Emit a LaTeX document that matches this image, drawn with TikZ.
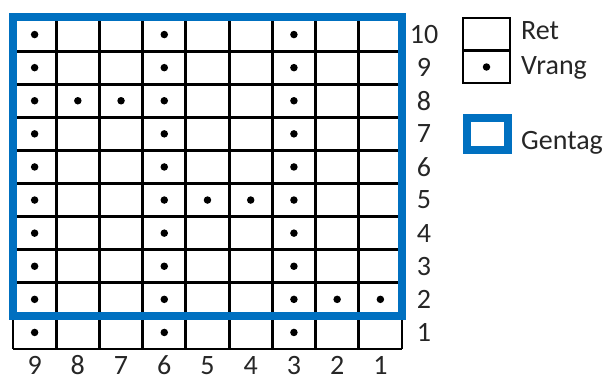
\documentclass[tikz,border=0pt]{standalone}
\usepackage{fontspec}
\setmainfont{Carlito}
\definecolor{gblue}{RGB}{0,112,192}
\begin{document}
\begin{tikzpicture}[x=1pt,y=-1pt,
  gridline/.style={line width=2.8pt,black},
  dotmark/.style={circle,fill=black,inner sep=0pt,minimum size=7.5pt},
  lbl/.style={font=\fontsize{28}{32}\selectfont,inner sep=0pt,text=black!85},
  frame/.style={draw=gblue,line width=8.5pt}]
\useasboundingbox (0,0) rectangle (614,380);
% grid lines
\foreach \i in {0,...,9}
  \draw[gridline] ({13+\i*43.22},18) -- ({13+\i*43.22},349);
\foreach \j in {0,...,10}
  \draw[gridline] (13,{18+\j*33.1}) -- (402,{18+\j*33.1});
% dots
\foreach \c in {9,6,3}
  \foreach \r in {1,...,10}
    \node[dotmark] (d-\c-\r) at ({13+43.22*(9-\c+0.5)},{349-33.1*(\r-0.5)}) {};
\foreach \c/\r in {8/8,7/8,5/5,4/5,2/2,1/2}
  \node[dotmark] (d-\c-\r) at ({13+43.22*(9-\c+0.5)},{349-33.1*(\r-0.5)}) {};
% repeat frame
\draw[frame] (13,17) rectangle (402,316);
% row labels
\foreach \r in {1,...,10}
  \node[lbl] (row-\r) at (424,{349-33.1*(\r-0.5)}) {\r};
% column labels
\foreach \c in {1,...,9}
  \node[lbl,anchor=base] (col-\c) at ({13+43.22*(9-\c+0.5)},374) {\c};
% legend
\draw[gridline] (463,18) rectangle (510,83);
\draw[gridline] (463,50.5) -- (510,50.5);
\node[dotmark] (legdot) at (486.5,67) {};
\node[lbl,anchor=west] (ret) at (521,31) {Ret};
\node[lbl,anchor=west] (vrang) at (521,68) {Vrang};
\draw[frame] (467,118) rectangle (508,150);
\node[lbl,anchor=west] (gentag) at (521,143) {Gentag};
\end{tikzpicture}
\end{document}
